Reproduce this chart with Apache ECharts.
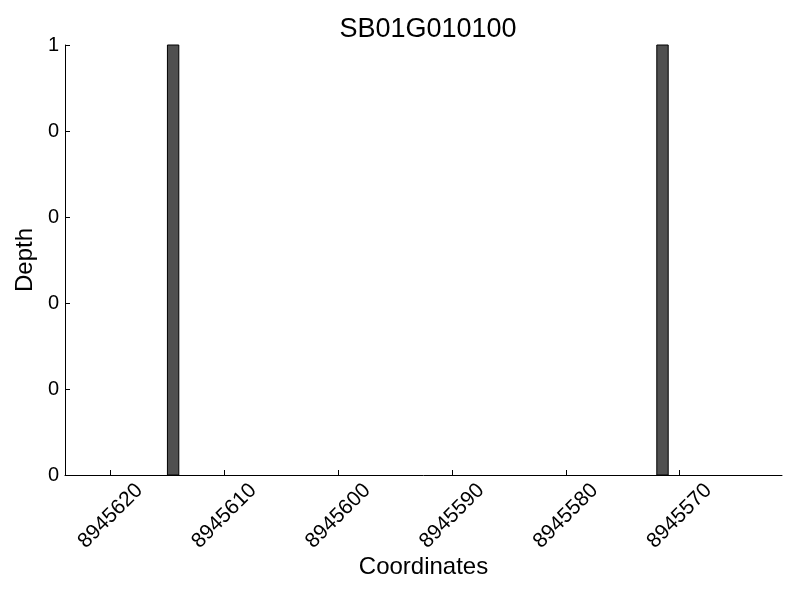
<!DOCTYPE html>
<html><head><meta charset="utf-8">
<script src="https://cdn.jsdelivr.net/npm/echarts@6/dist/echarts.min.js"></script>
<style>html,body{margin:0;padding:0;background:#fff}#c{width:800px;height:600px}</style>
</head><body><div id="c"></div>
<script>
const binStarts = [8945614, 8945571];
const binWidth = 1;
const depths = [1, 1];
const xTicks = [8945620, 8945610, 8945600, 8945590, 8945580, 8945570];
const yTicks = [0, 0.2, 0.4, 0.6, 0.8, 1];
const yTickLabels = ['0', '0', '0', '0', '0', '1'];
const xMin = 8945561, xMax = 8945624;

const chart = echarts.init(document.getElementById('c'));
const font = 'Liberation Sans, Arial, sans-serif';
chart.setOption({
  animation: false,
  title: {text: 'SB01G010100', left: 423, top: 11, textAlign: 'center',
    textStyle: {fontFamily: font, fontSize: 27, fontWeight: 'normal', color: '#000'}},
  grid: {left: 65, right: 18, top: 45, bottom: 125},
  xAxis: {type: 'value', inverse: true, min: xMin, max: xMax,
    name: 'Coordinates', nameLocation: 'middle', nameGap: 80, nameMoveOverlap: false,
    nameTextStyle: {fontFamily: font, fontSize: 24, color: '#000'},
    axisLine: {show: true, lineStyle: {color: '#000', width: 1}},
    axisTick: {show: true, inside: true, length: 5, customValues: xTicks, lineStyle: {color: '#000'}},
    axisLabel: {customValues: xTicks, rotate: 45, align: 'center', verticalAlign: 'middle',
      fontFamily: font, fontSize: 21, color: '#000', margin: 41,
      formatter: v => String(v)},
    splitLine: {show: false}},
  yAxis: {type: 'value', min: 0, max: 1,
    name: 'Depth', nameLocation: 'middle', nameGap: 26, nameRotate: 90,
    nameTextStyle: {fontFamily: font, fontSize: 24, color: '#000'},
    axisLine: {show: true, lineStyle: {color: '#000', width: 1}},
    axisTick: {show: true, inside: true, length: 5, customValues: yTicks, lineStyle: {color: '#000'}},
    axisLabel: {customValues: yTicks, fontFamily: font, fontSize: 20, color: '#000', margin: 6,
      formatter: v => yTickLabels[yTicks.findIndex(t => Math.abs(t - v) < 1e-9)] ?? ''},
    splitLine: {show: false}},
  series: [{
    type: 'custom',
    data: binStarts.map((s, i) => [s, s + binWidth, depths[i]]),
    encode: {x: [0, 1], y: 2},
    renderItem: (params, api) => {
      const p0 = api.coord([api.value(0), api.value(2)]);
      const p1 = api.coord([api.value(1), 0]);
      const x = Math.min(p0[0], p1[0]);
      return {type: 'rect',
        shape: {x: x, y: p0[1], width: Math.abs(p1[0] - p0[0]), height: p1[1] - p0[1]},
        style: {fill: '#505050', stroke: '#000', lineWidth: 1}};
    }
  }]
});
</script></body></html>
